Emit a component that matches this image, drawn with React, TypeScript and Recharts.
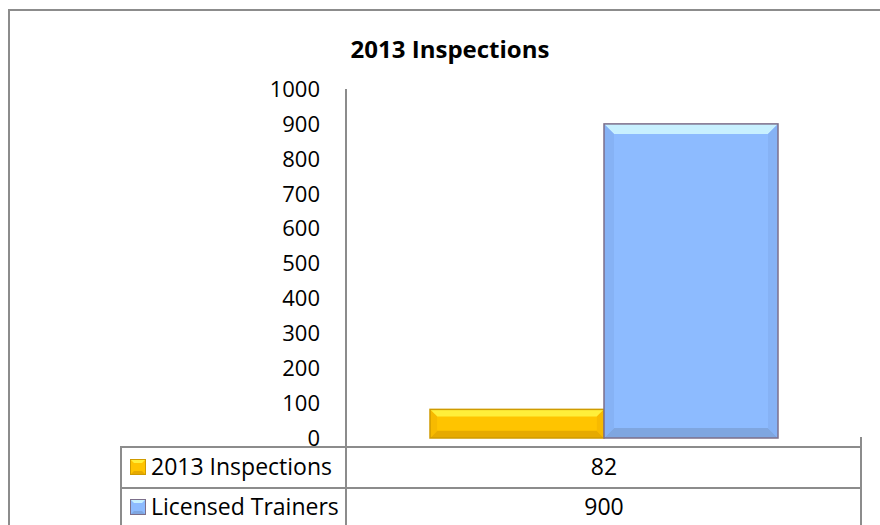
import { Bar, BarChart, XAxis, YAxis } from 'recharts'

const categories = ['']
const seriesNames = ['2013 Inspections', 'Licensed Trainers']
const seriesKeys = ['inspections', 'trainers']
const seriesValues = [82, 900]
const yTicks = [0, 100, 200, 300, 400, 500, 600, 700, 800, 900, 1000]

// colours per series: main, top bevel, bottom bevel, side bevel, edge
const PALETTE = [
  { main: '#FFC400', top: '#FFEF3A', bottom: '#E6AA00', side: '#F7BA00', edge: '#CF9B00' },
  { main: '#8DBBFF', top: '#C8F0FF', bottom: '#7FA6E0', side: '#86B2F5', edge: '#7C6F8A' },
]

const LINE = '#8C8C8C'
const FONT = '"Open Sans", sans-serif'

const data = categories.map((c) => {
  const row: Record<string, string | number> = { name: c }
  seriesKeys.forEach((k, i) => (row[k] = seriesValues[i]))
  return row
})

function bevelShape(idx: number) {
  return (props: any) => {
    const { x, y, width: w, height: h } = props
    if (!w || !h) return <g />
    const c = PALETTE[idx]
    const b = Math.min(10, h / 4, w / 3)
    return (
      <g>
        <rect x={x} y={y} width={w} height={h} fill={c.main} />
        <polygon points={`${x},${y} ${x + w},${y} ${x + w - b},${y + b} ${x + b},${y + b}`} fill={c.top} />
        <polygon points={`${x},${y + h} ${x + w},${y + h} ${x + w - b},${y + h - b} ${x + b},${y + h - b}`} fill={c.bottom} />
        <polygon points={`${x},${y} ${x + b},${y + b} ${x + b},${y + h - b} ${x},${y + h}`} fill={c.side} />
        <polygon points={`${x + w},${y} ${x + w - b},${y + b} ${x + w - b},${y + h - b} ${x + w},${y + h}`} fill={c.side} />
        <rect x={x} y={y} width={w} height={h} fill="none" stroke={c.edge} strokeWidth={1.5} />
      </g>
    )
  }
}

function Key({ idx, top }: { idx: number; top: number }) {
  const c = PALETTE[idx]
  return (
    <svg width={16} height={16} style={{ position: 'absolute', left: 130, top }}>
      <rect x={0} y={0} width={16} height={16} fill={c.main} />
      <polygon points="0,0 16,0 12,4 4,4" fill={c.top} />
      <polygon points="0,16 16,16 12,12 4,12" fill={c.bottom} />
      <rect x={0.5} y={0.5} width={15} height={15} fill="none" stroke={c.edge} />
    </svg>
  )
}

const hLine = (left: number, top: number, width: number) => (
  <div style={{ position: 'absolute', left, top, width, height: 2, background: LINE }} />
)
const vLine = (left: number, top: number, height: number) => (
  <div style={{ position: 'absolute', left, top, width: 2, height, background: LINE }} />
)

export default function App() {
  return (
    <div
      style={{
        position: 'absolute',
        left: 0,
        top: 0,
        width: 880,
        height: 525,
        overflow: 'hidden',
        background: '#fff',
        fontFamily: FONT,
      }}
    >
      {/* outer chart border (runs off the right and bottom edges) */}
      <div style={{ position: 'absolute', left: 8, top: 9, width: 900, height: 600, border: `2px solid ${LINE}` }} />

      <div
        style={{
          position: 'absolute',
          left: 450,
          top: 34,
          transform: 'translateX(-50%)',
          whiteSpace: 'nowrap',
          fontWeight: 700,
          fontSize: 24,
          lineHeight: '30px',
          color: '#000',
        }}
      >
        2013 Inspections
      </div>

      <div style={{ position: 'absolute', left: 0, top: 0 }}>
        <BarChart
          width={880}
          height={525}
          data={data}
          margin={{ top: 89, right: 19, bottom: 87, left: 286 }}
          barGap={0}
          barCategoryGap={84}
        >
          <XAxis dataKey="name" tick={false} height={0} axisLine={{ stroke: LINE, strokeWidth: 2 }} tickLine={false} />
          <YAxis
            width={60}
            domain={[0, 1000]}
            ticks={yTicks}
            interval={0}
            tickLine={false}
            tickSize={0}
            tickMargin={26}
            axisLine={{ stroke: LINE, strokeWidth: 2 }}
            tick={{ fill: '#000', fontSize: 22, fontFamily: FONT }}
          />
          {seriesKeys.map((k, i) => (
            <Bar key={k} dataKey={k} name={seriesNames[i]} isAnimationActive={false} shape={bevelShape(i)} />
          ))}
        </BarChart>
      </div>

      {/* data table under the plot */}
      {vLine(345, 437, 100)}
      {vLine(860, 437, 100)}
      {vLine(120, 446, 100)}
      {hLine(120, 446, 742)}
      {hLine(120, 487, 742)}
      {seriesNames.map((n, i) => (
        <div key={n}>
          <Key idx={i} top={459 + i * 40} />
          <div
            style={{
              position: 'absolute',
              left: 151,
              top: 451 + i * 40,
              fontSize: 23,
              lineHeight: '31px',
              whiteSpace: 'nowrap',
              color: '#000',
            }}
          >
            {n}
          </div>
          <div
            style={{
              position: 'absolute',
              left: 347,
              width: 514,
              top: 451 + i * 40,
              fontSize: 23,
              lineHeight: '31px',
              textAlign: 'center',
              color: '#000',
            }}
          >
            {seriesValues[i]}
          </div>
        </div>
      ))}
    </div>
  )
}
